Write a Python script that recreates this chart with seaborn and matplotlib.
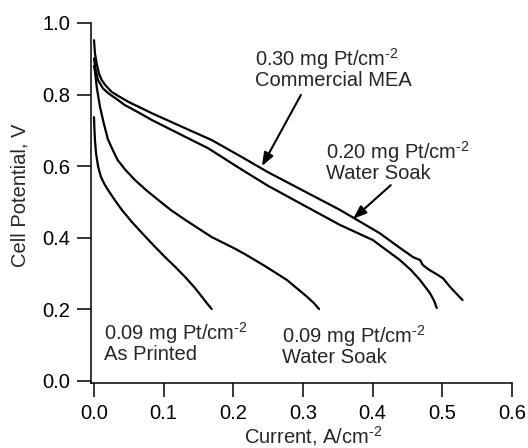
import numpy as np
import pandas as pd
import matplotlib
matplotlib.use("Agg")
import matplotlib.pyplot as plt
import seaborn as sns

# ---- data ----
mea_x = [0, 0.0014, 0.0038, 0.0072, 0.011, 0.016, 0.025, 0.035, 0.049, 0.064, 0.083,
         0.107, 0.131, 0.169, 0.21, 0.25, 0.30, 0.353, 0.41, 0.439, 0.458, 0.468,
         0.472, 0.48, 0.492, 0.501, 0.511, 0.529]
mea_y = [0.952, 0.915, 0.887, 0.859, 0.841, 0.827, 0.808, 0.796, 0.780, 0.766, 0.748,
         0.727, 0.706, 0.673, 0.628, 0.583, 0.532, 0.478, 0.413, 0.372, 0.346, 0.338,
         0.324, 0.312, 0.298, 0.287, 0.263, 0.226]

ws20_x = [0, 0.0024, 0.006, 0.013, 0.021, 0.033, 0.044, 0.064, 0.083, 0.131, 0.164,
          0.21, 0.25, 0.30, 0.353, 0.40, 0.439, 0.455, 0.468, 0.482, 0.488, 0.492]
ws20_y = [0.901, 0.869, 0.84, 0.817, 0.803, 0.787, 0.771, 0.750, 0.729, 0.682, 0.650,
          0.593, 0.545, 0.492, 0.436, 0.394, 0.338, 0.31, 0.282, 0.246, 0.225, 0.204]

ws09_x = [0, 0.0014, 0.004, 0.0086, 0.014, 0.02, 0.027, 0.034, 0.045, 0.059, 0.075,
          0.092, 0.11, 0.131, 0.15, 0.169, 0.2, 0.217, 0.248, 0.277, 0.306, 0.316, 0.323]
ws09_y = [0.88, 0.865, 0.82, 0.766, 0.72, 0.675, 0.645, 0.617, 0.59, 0.561, 0.533,
          0.506, 0.478, 0.45, 0.426, 0.402, 0.372, 0.354, 0.318, 0.282, 0.235, 0.217, 0.201]

ap09_x = [0, 0.0007, 0.0015, 0.003, 0.006, 0.01, 0.015, 0.02, 0.03, 0.04, 0.054,
          0.069, 0.085, 0.102, 0.117, 0.131, 0.144, 0.155, 0.163, 0.169]
ap09_y = [0.737, 0.70, 0.67, 0.635, 0.598, 0.57, 0.55, 0.534, 0.505, 0.478, 0.445,
          0.413, 0.38, 0.346, 0.318, 0.29, 0.262, 0.235, 0.215, 0.201]

x_ticks = [0.0, 0.1, 0.2, 0.3, 0.4, 0.5, 0.6]
y_ticks = [0.0, 0.2, 0.4, 0.6, 0.8, 1.0]

SUP = "$^{\u2010 2}$".replace(" ", "")
labels = [
    ("0.30 mg Pt/cm" + SUP, "Commercial MEA"),
    ("0.20 mg Pt/cm" + SUP, "Water Soak"),
    ("0.09 mg Pt/cm" + SUP, "As Printed"),
    ("0.09 mg Pt/cm" + SUP, "Water Soak"),
]

# ---- style ----
sns.set_style("ticks")
plt.rcParams['font.family'] = ['Liberation Sans', 'DejaVu Sans']
plt.rcParams['mathtext.fontset'] = 'custom'
plt.rcParams['mathtext.rm'] = 'Liberation Sans'
plt.rcParams['mathtext.it'] = 'Liberation Sans'
plt.rcParams['mathtext.default'] = 'regular'

FS = 14.5
fig = plt.figure(figsize=(5.28, 4.48), dpi=100)
ax = fig.add_axes([91/528, 65/448, (512-91)/528, (425-65)/448])

frames = []
for name, xs, ys in [("mea", mea_x, mea_y), ("ws20", ws20_x, ws20_y),
                     ("ws09", ws09_x, ws09_y), ("ap09", ap09_x, ap09_y)]:
    frames.append(pd.DataFrame({"x": xs, "y": ys, "s": name}))
df = pd.concat(frames, ignore_index=True)

for name, g in df.groupby("s", sort=False):
    sns.lineplot(data=g, x="x", y="y", ax=ax, color="black", lw=1.6,
                 estimator=None, sort=False, legend=False)

ax.set_xlim(-0.0043, 0.6)
ax.set_ylim(-0.0056, 1.0)
ax.set_xticks(x_ticks)
ax.set_yticks(y_ticks)
ax.set_xticklabels([f"{v:.1f}" for v in x_ticks])
ax.set_yticklabels([f"{v:.1f}" for v in y_ticks])
for s in ["top", "right"]:
    ax.spines[s].set_visible(False)
for s in ["left", "bottom"]:
    ax.spines[s].set_linewidth(1.1)
    ax.spines[s].set_color("black")
ax.tick_params(direction="out", length=10, width=1.1, pad=5, labelsize=FS,
               colors="black")

ax.set_xlabel("Current, A/cm" + SUP, fontsize=FS)
ax.set_ylabel("Cell Potential, V", fontsize=FS)
ax.xaxis.set_label_coords((313-91)/421, (448-436-65)/360, transform=ax.transAxes)
ax.yaxis.set_label_coords((20-91)/421, (448-195-65)/360, transform=ax.transAxes)
ax.xaxis.label.set_va("center")
ax.yaxis.label.set_va("center")

def label(x, y1, pair):
    ax.text(x, y1, pair[0] + "\n" + pair[1], fontsize=FS, va="top", ha="left",
            linespacing=0.95)

label(0.231, 0.935, labels[0])
label(0.333, 0.677, labels[1])
label(0.0143, 0.170, labels[2])
label(0.27, 0.163, labels[3])

arrow = dict(arrowstyle="-|>,head_length=0.8,head_width=0.3", color="black",
             lw=1.5, shrinkA=0, shrinkB=0)
ax.annotate("", xy=(0.241, 0.600), xytext=(0.297, 0.799), arrowprops=arrow)
ax.annotate("", xy=(0.372, 0.453), xytext=(0.426, 0.547), arrowprops=arrow)

fig.savefig("out.png", dpi=100)
